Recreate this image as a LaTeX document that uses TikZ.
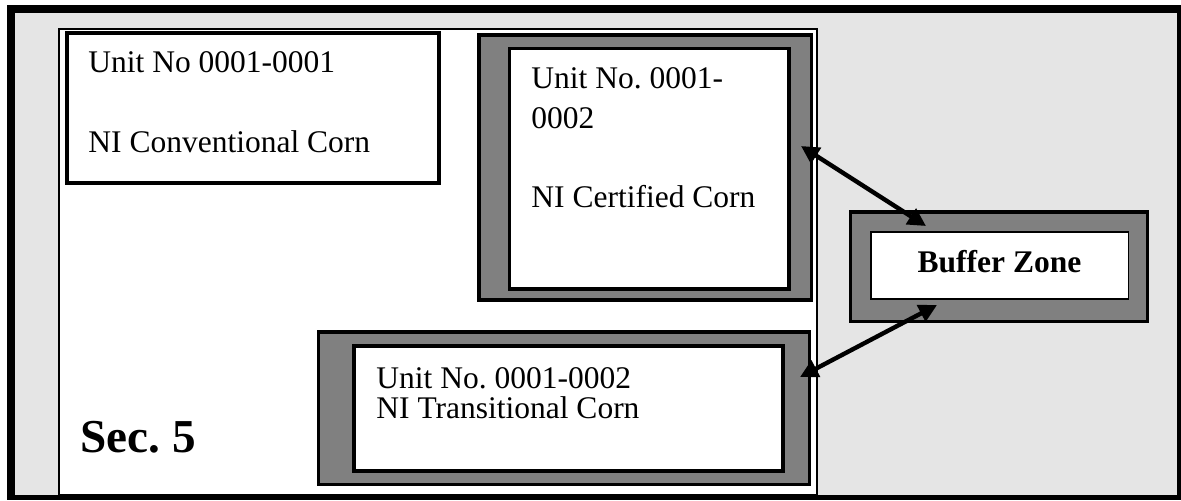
\documentclass[tikz,border=0pt]{standalone}
\usepackage{fontspec}
\setmainfont{Liberation Serif}
\usetikzlibrary{arrows.meta}
\definecolor{bglight}{HTML}{E5E5E5}
\definecolor{band}{HTML}{808080}
\frenchspacing
\begin{document}
\begin{tikzpicture}[x=0.5pt,y=-0.5pt,
  plainbox/.style={draw=black, fill=white, line width=2pt, inner sep=0pt},
  bandbox/.style={draw=black, fill=band, line width=1.75pt, inner sep=0pt},
  innerbox/.style={draw=black, fill=white, line width=1.75pt, inner sep=0pt},
  thinbox/.style={draw=black, fill=white, line width=0.75pt, inner sep=0pt},
  txt/.style={inner sep=0pt, align=left, anchor=base west},
  conn/.style={line width=2.2pt, {Triangle[length=9pt,width=9pt]}-{Triangle[length=9pt,width=9pt]}}]
\useasboundingbox (0,0) rectangle (1181,500);
\fill[white] (0,0) rectangle (1181,500);
% frame
\fill[black] (7,5) rectangle (1181,500);
\fill[bglight] (15,13) rectangle (1177,495);
% field
\draw[line width=0.8pt, fill=white] (59,29) rectangle (817,495);
% boxes
\node[plainbox, minimum width=186pt, minimum height=75.25pt] (conv) at (253,107.75) {};
\node[bandbox, minimum width=166.25pt, minimum height=132.5pt] (cert) at (645.25,167.5) {};
\node[innerbox, minimum width=139.75pt, minimum height=120.25pt] (certin) at (649.25,168.75) {};
\node[bandbox, minimum width=245.4pt, minimum height=76.35pt] (trans) at (564.1,408.35) {};
\node[innerbox, minimum width=214.5pt, minimum height=62.5pt] (transin) at (568.5,408.5) {};
\node[bandbox, minimum width=148.5pt, minimum height=54.75pt] (buf) at (999,266.75) {};
\node[thinbox, minimum width=128.75pt, minimum height=33.5pt] (bufin) at (999.75,265.5) {};
% texts (base anchor = baseline of last line)
\node[txt, font=\fontsize{15.75pt}{20pt}\selectfont] (t1) at (88,152) {Unit No 0001-0001\\[20pt]NI Conventional Corn};
\node[txt, font=\fontsize{15.75pt}{19.75pt}\selectfont] (t2) at (531,207) {Unit No. 0001-\\0002\\[19.75pt]NI Certified Corn};
\node[txt, font=\fontsize{15.75pt}{15pt}\selectfont] (t3) at (376,418) {Unit No. 0001-0002\\NI Transitional Corn};
\node[inner sep=0pt, anchor=base, font=\fontsize{15.75pt}{19pt}\selectfont\bfseries] (buftext) at (999.5,272) {Buffer Zone};
\node[inner sep=0pt, anchor=base west, font=\fontsize{23.6pt}{28pt}\selectfont\bfseries] (sec) at (80,452) {Sec. 5};
% arrows
\coordinate (p1) at (801,146);
\coordinate (p2) at (926,226);
\coordinate (p3) at (937,305);
\coordinate (p4) at (800,377);
\draw[conn] (p1) -- (p2);
\draw[conn] (p3) -- (p4);
\end{tikzpicture}
\end{document}
